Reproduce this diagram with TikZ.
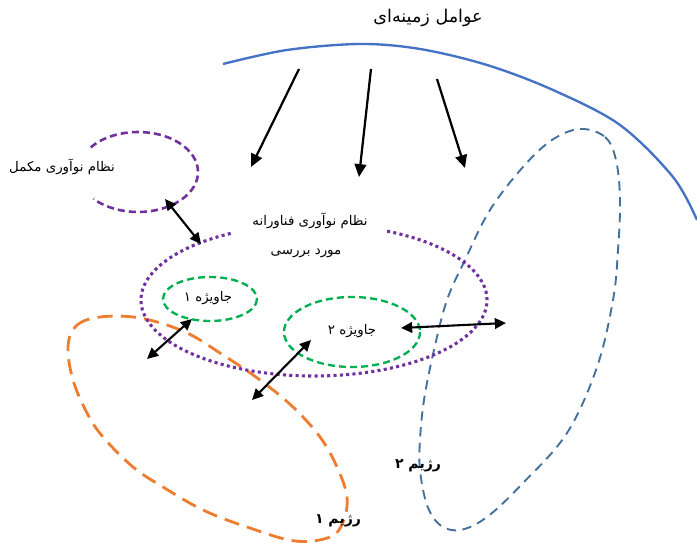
\documentclass[tikz,border=0pt]{standalone}
\usepackage{fontspec}
\TeXXeTstate=1
\newfontfamily\fa[Script=Arabic]{DejaVu Sans}
\usetikzlibrary{arrows.meta}
\definecolor{purp}{HTML}{7030A0}
\definecolor{grn}{HTML}{00B050}
\definecolor{orng}{HTML}{ED7D31}
\definecolor{arcblue}{HTML}{4472C4}
\definecolor{dashblue}{HTML}{41719C}
\begin{document}
\begin{tikzpicture}[x=0.03cm,y=-0.03cm,
  lbl/.style={inner sep=0pt, font=\fa\fontsize{11.4}{13}\selectfont},
  boldlbl/.style={inner sep=0pt, font=\fa\bfseries\fontsize{12}{14}\selectfont},
  inarrow/.style={line width=1.9pt, -{Triangle[length=11pt,width=10pt]}},
  dblarrow/.style={line width=1.8pt, {Triangle[length=9.5pt,width=9pt]}-{Triangle[length=9.5pt,width=9pt]}},
  purpdash/.style={purp, line width=2.2pt, dash pattern=on 6pt off 3.5pt},
  purpdot/.style={purp, line width=2.6pt, dash pattern=on 2.6pt off 2.8pt},
  grndash/.style={grn, line width=2pt, dash pattern=on 6pt off 3.5pt},
  orngdash/.style={orng, line width=2.4pt, dash pattern=on 13pt off 7pt},
  bluedash/.style={dashblue, line width=1.6pt, dash pattern=on 8pt off 5.5pt}
]
\useasboundingbox[fill=white] (0,0) rectangle (697,543);

% large blue arc
\draw[arcblue, line width=2pt] plot[smooth, tension=0.55] coordinates
  {(223,64) (287,50) (360,44) (420,49) (487,65) (553,90) (620,125) (673,177) (697,220)};

% title
\node[lbl, font=\fa\fontsize{15}{17}\selectfont] (title) at (428,18) {\beginR عوامل زمینه‌ای\endR};

% incoming arrows
\coordinate (s1) at (299,69); \coordinate (e1) at (251,167);
\coordinate (s2) at (371,69); \coordinate (e2) at (359,177);
\coordinate (s3) at (437,79); \coordinate (e3) at (465,168);
\draw[inarrow] (s1) -- (e1);
\draw[inarrow] (s2) -- (e2);
\draw[inarrow] (s3) -- (e3);

% regime 2 (blue dashed)
\draw[bluedash] plot[smooth cycle, tension=0.6] coordinates
  {(580,129) (605,137) (616,160) (620,200) (618,250) (613,300) (597,367) (567,433) (523,483) (487,517) (460,530) (440,525) (427,505) (420,470) (420,440) (424,400) (434,350) (447,300) (465,260) (490,210) (523,167) (552,140)};

% regime 1 (orange dashed)
\draw[orngdash] plot[smooth cycle, tension=0.6] coordinates
  {(68,347) (76,326) (100,317) (140,318) (185,332) (223,355) (260,380) (293,407) (320,437) (337,467) (347,497) (343,522) (330,537) (295,541) (247,527) (203,510) (163,487) (133,467) (103,437) (87,413) (73,380)};

% complementary innovation system (purple dashed, open at left)
\draw[purpdash, shift={(138,172)}] ({60*cos(-142)},{40*sin(-142)}) arc[start angle=-142, end angle=138, x radius=60, y radius=40];
\node[lbl] (comp) at (62,167) {\beginR نظام نوآوری مکمل\endR};

% studied TIS (purple dotted, open at top)
\draw[purpdot, shift={(314,300)}] ({173*cos(-65)},{76*sin(-65)}) arc[start angle=-65, end angle=242, x radius=173, y radius=76];
\node[lbl] (tis1) at (310,221) {\beginR نظام نوآوری فناورانه\endR};
\node[lbl] (tis2) at (306,253) {\beginR مورد بررسی\endR};

% niches
\draw[grndash] (210,299) ellipse[x radius=47, y radius=22];
\node[lbl] (n1) at (208,298) {\beginR جاویژه ۱\endR};
\draw[grndash] (352,332) ellipse[x radius=68, y radius=35];
\node[lbl] (n2) at (352,331) {\beginR جاویژه ۲\endR};

% regime labels
\node[boldlbl] (r2) at (418,466) {\beginR رژیم ۲\endR};
\node[boldlbl] (r1) at (338,521) {\beginR رژیم ۱\endR};

% double arrows
\coordinate (a1) at (165,199); \coordinate (b1) at (201,244);
\coordinate (a2) at (192,319); \coordinate (b2) at (147,359);
\coordinate (a3) at (311,340); \coordinate (b3) at (252,400);
\coordinate (a4) at (401,328); \coordinate (b4) at (506,323);
\draw[dblarrow] (a1) -- (b1);
\draw[dblarrow] (a2) -- (b2);
\draw[dblarrow] (a3) -- (b3);
\draw[dblarrow] (a4) -- (b4);
\end{tikzpicture}
\end{document}
